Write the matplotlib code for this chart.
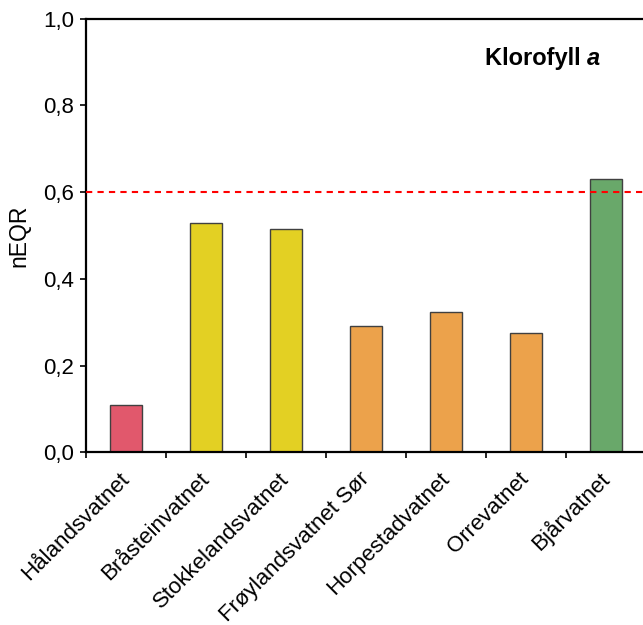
import matplotlib
matplotlib.use("Agg")
import matplotlib.pyplot as plt
import numpy as np

# data
lakes = ["Hålandsvatnet", "Bråsteinvatnet", "Stokkelandsvatnet",
         "Frøylandsvatnet Sør", "Horpestadvatnet", "Orrevatnet", "Bjårvatnet"]
neqr = [0.109, 0.529, 0.515, 0.292, 0.323, 0.274, 0.629]
bar_colors = ["#E1586C", "#E3D023", "#E3D023", "#ECA24B", "#ECA24B", "#ECA24B", "#69A86A"]
yticks = [0.0, 0.2, 0.4, 0.6, 0.8, 1.0]
ytick_labels = ["0,0", "0,2", "0,4", "0,6", "0,8", "1,0"]
threshold = 0.6

plt.rcParams["font.family"] = ["Liberation Sans", "DejaVu Sans"]

fig = plt.figure(figsize=(6.43, 6.25), dpi=100)
ax = fig.add_axes([86 / 643, 1 - 452.3 / 625, 560 / 643, (452.3 - 18.5) / 625])

x = np.arange(len(lakes))
ax.bar(x, neqr, width=0.4, color=bar_colors, edgecolor="#404040", linewidth=1.0, zorder=2)

# grense god/moderat
line = ax.axhline(threshold, color="red", linewidth=1.5, zorder=3)
line.set_dashes((3, 2.5))

ax.set_xlim(-0.5, len(lakes) - 0.5)
ax.set_ylim(0, 1.0)

ax.set_yticks(yticks)
ax.set_yticklabels(ytick_labels)
ax.set_xticks(x)
ax.set_xticklabels(lakes, rotation=45, ha="right", va="center", rotation_mode="anchor")
ax.set_xticks(np.arange(len(lakes) + 1) - 0.5, minor=True)

ax.tick_params(axis="y", direction="out", length=4.5, width=1.2, labelsize=16, pad=4)
ax.tick_params(axis="x", which="major", length=0, labelsize=16, pad=17)
ax.tick_params(axis="x", which="minor", direction="out", length=4.5, width=1.2)

for s in ["left", "bottom", "top", "right"]:
    ax.spines[s].set_linewidth(1.6)

ax.set_ylabel("nEQR", fontsize=16.5, labelpad=9)

t1 = ax.text(0.895, 0.893, "Klorofyll ", transform=ax.transAxes,
             fontsize=17, fontweight="bold", ha="right", va="baseline")
ax.annotate("a", xy=(1, 0), xycoords=t1, ha="left", va="bottom",
            fontsize=17, fontweight="bold", fontstyle="italic")

fig.savefig("out.png", dpi=100)
